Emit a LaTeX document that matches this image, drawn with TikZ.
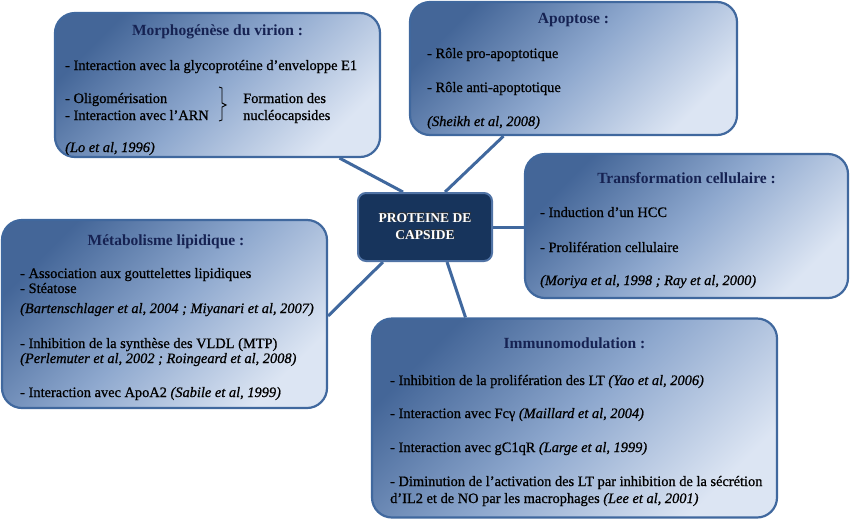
\documentclass[tikz,border=0pt]{standalone}
\usepackage{fontspec}
\setmainfont{Liberation Serif}[UprightFeatures={FakeBold=0.8},ItalicFeatures={FakeBold=0.8}]
\newfontfamily\ttlfont{Liberation Serif}
\usetikzlibrary{calc,backgrounds}
\definecolor{boxdark}{RGB}{68,102,152}
\definecolor{boxmid}{RGB}{142,168,206}
\definecolor{boxlight}{RGB}{220,229,243}
\definecolor{edgecol}{RGB}{64,104,158}
\definecolor{ttlcol}{RGB}{22,34,82}
\definecolor{corecol}{RGB}{23,52,92}
\tikzset{
  topicbox/.style={draw=edgecol, line width=2.2pt, rounded corners=20pt,
    top color=boxdark, bottom color=boxlight, middle color=boxmid, shading angle=45, inner sep=0pt},
  corebox/.style={draw={rgb,255:red,80;green,115;blue,165}, line width=2pt, rounded corners=8pt,
    fill=corecol, inner sep=0pt},
  coretext/.style={text=white, align=center, inner sep=0pt,
    font=\ttlfont\fontsize{13.5}{17}\selectfont\bfseries},
  conn/.style={draw=edgecol, line width=3pt},
  txt/.style={anchor=base west, inner sep=0pt, text=black, font=\fontsize{14.4}{16}\selectfont},
  ref/.style={txt, font=\fontsize{14.4}{16}\selectfont\itshape},
  ttl/.style={anchor=base, inner sep=0pt, text=ttlcol, font=\ttlfont\fontsize{15.5}{18}\selectfont\bfseries}
}
\begin{document}
\begin{tikzpicture}[x=1pt,y=-1pt]
\useasboundingbox (0,0) rectangle (850,520);
% boxes
\node[topicbox, minimum width=325pt, minimum height=144pt] (morph) at (217.5,85) {};
\node[topicbox, minimum width=327pt, minimum height=133pt] (apo) at (573.5,68.5) {};
\node[topicbox, minimum width=323pt, minimum height=144pt] (trans) at (686.5,226) {};
\node[topicbox, minimum width=325pt, minimum height=188pt] (metab) at (164.5,314) {};
\node[topicbox, minimum width=405pt, minimum height=199pt] (immuno) at (574.5,418) {};
\node[corebox, minimum width=134pt, minimum height=68pt] (prot) at (425,227) {};
\node[coretext, text=black!80] (protS) at ([shift={(1pt,1pt)}]prot.center) {PROTEINE DE\\CAPSIDE};
\node[coretext] (protT) at (prot.center) {PROTEINE DE\\CAPSIDE};
% connectors
\begin{scope}[on background layer]
\draw[conn] ([xshift=-22pt]prot.north) -- ([xshift=122pt]morph.south);
\draw[conn] ([xshift=20pt]prot.north) -- ([xshift=-70pt]apo.south);
\draw[conn] (prot.east) -- (prot.east -| trans.west);
\draw[conn] ([xshift=-42pt]prot.south) -- ([yshift=-2pt]metab.east);
\draw[conn] ([xshift=22pt]prot.south) -- ([xshift=-109pt]immuno.north);
\end{scope}
% Morphogenese
\node[ttl] (morphT) at (217.5,35) {Morphogénèse du virion :};
\node[txt] (morph1) at (65,70) {- Interaction avec la glycoprotéine d’enveloppe E1};
\node[txt] (morph2) at (65,103) {- Oligomérisation};
\node[txt] (morph3) at (65,120) {- Interaction avec l’ARN};
\node[txt] (morph4) at (243,103) {Formation des};
\node[txt] (morph5) at (243,120) {nucléocapsides};
\node[ref] (morph6) at (65,152) {(Lo et al, 1996)};
\draw[line width=0.9pt] (219,87) -- (222,88) -- (222,103) -- (226,105) -- (222,107) -- (222,120) -- (219,121);
% Apoptose
\node[ttl] (apoT) at (573.5,23) {Apoptose :};
\node[txt] (apo1) at (427,58) {- Rôle pro-apoptotique};
\node[txt] (apo2) at (427,92) {- Rôle anti-apoptotique};
\node[ref] (apo3) at (427,126) {(Sheikh et al, 2008)};
% Transformation
\node[ttl] (transT) at (686.5,183) {Transformation cellulaire :};
\node[txt] (trans1) at (540,217) {- Induction d’un HCC};
\node[txt] (trans2) at (540,252) {- Prolifération cellulaire};
\node[ref] (trans3) at (540,285) {(Moriya et al, 1998 ; Ray et al, 2000)};
% Metabolisme
\node[ttl] (metabT) at (166,245) {Métabolisme lipidique :};
\node[txt] (metab1) at (20,278) {- Association aux gouttelettes lipidiques};
\node[txt] (metab2) at (20,293) {- Stéatose};
\node[ref] (metab3) at (20,313) {(Bartenschlager et al, 2004 ; Miyanari et al, 2007)};
\node[txt] (metab4) at (20,348) {- Inhibition de la synthèse des VLDL (MTP)};
\node[ref] (metab5) at (20,363) {(Perlemuter et al, 2002 ; Roingeard et al, 2008)};
\node[txt] (metab6) at (20,397) {- Interaction avec ApoA2 \textit{(Sabile et al, 1999)}};
% Immunomodulation
\node[ttl] (immunoT) at (574.5,348) {Immunomodulation :};
\node[txt] (imm1) at (390,385) {- Inhibition de la prolifération des LT \textit{(Yao et al, 2006)}};
\node[txt] (imm2) at (390,418) {- Interaction avec Fcγ \textit{(Maillard et al, 2004)}};
\node[txt] (imm3) at (390,452) {- Interaction avec gC1qR \textit{(Large et al, 1999)}};
\node[txt] (imm4) at (390,486) {- Diminution de l’activation des LT par inhibition de la sécrétion};
\node[txt] (imm5) at (390,503) {d’IL2 et de NO par les macrophages \textit{(Lee et al, 2001)}};
\end{tikzpicture}
\end{document}
